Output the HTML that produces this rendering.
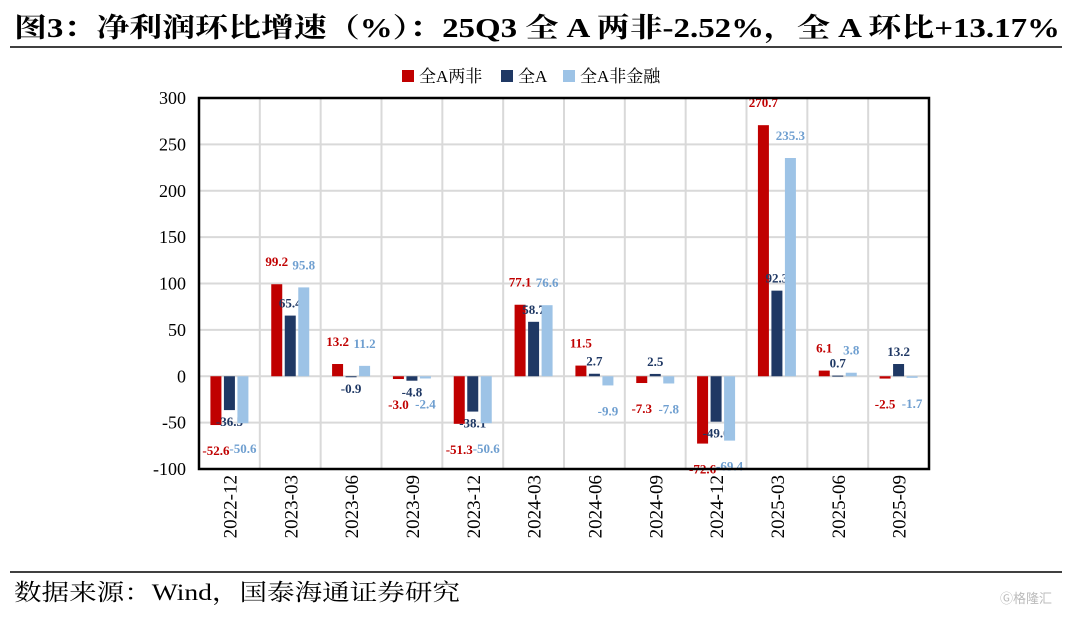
<!DOCTYPE html>
<html><head><meta charset="utf-8"><style>
body{margin:0;width:1077px;height:613px;background:#fff;overflow:hidden;font-family:"Liberation Serif","Noto Serif CJK SC",serif}
</style></head><body>
<svg width="1077" height="613" xmlns="http://www.w3.org/2000/svg">
<text x="14" y="37" font-size="27" font-weight="bold" fill="#000" textLength="1046" lengthAdjust="spacingAndGlyphs">图3：净利润环比增速（%）：25Q3 全 A 两非-2.52%，全 A 环比+13.17%</text>
<line x1="10" y1="47" x2="1062" y2="47" stroke="#000" stroke-width="1.5"/>
<line x1="10" y1="572" x2="1062" y2="572" stroke="#000" stroke-width="1.5"/>
<text x="14" y="600" font-size="23" fill="#000" textLength="446" lengthAdjust="spacingAndGlyphs">数据来源：Wind，国泰海通证券研究</text>
<text x="1000" y="603" font-size="13" fill="#bbb" font-family="Liberation Sans,Noto Sans CJK SC,sans-serif">Ⓖ格隆汇</text>
<g id="legend">
<rect x="402" y="70" width="12" height="12" fill="#c00000"/>
<text x="419" y="82" font-size="17">全A两非</text>
<rect x="501" y="70" width="12" height="12" fill="#1f3864"/>
<text x="518" y="82" font-size="17">全A</text>
<rect x="563" y="70" width="12" height="12" fill="#9dc3e6"/>
<text x="580" y="82" font-size="17">全A非金融</text>
</g>
<g id="plot"></g>
</svg>
<script>
const categories=["2022-12","2023-03","2023-06","2023-09","2023-12","2024-03","2024-06","2024-09","2024-12","2025-03","2025-06","2025-09"];
const seriesA=[-52.6,99.2,13.2,-3.0,-51.3,77.1,11.5,-7.3,-72.6,270.7,6.1,-2.5];
const seriesB=[-36.5,65.4,-0.9,-4.8,-38.1,58.7,2.7,2.5,-49.0,92.3,0.7,13.2];
const seriesC=[-50.6,95.8,11.2,-2.4,-50.6,76.6,-9.9,-7.8,-69.4,235.3,3.8,-1.7];
const yTicks=[300,250,200,150,100,50,0,-50,-100];
const L=199,R=929,T=98,B=469,ymin=-100,ymax=300;
const NS="http://www.w3.org/2000/svg";
const g=document.getElementById('plot');
const y=v=>T+(ymax-v)/(ymax-ymin)*(B-T);
const bw=(R-L)/categories.length;
const xc=i=>L+bw*(i+0.5);
function mk(t,a,p){const e=document.createElementNS(NS,t);for(const k in a)e.setAttribute(k,a[k]);(p||g).appendChild(e);return e;}
yTicks.forEach(v=>{
 const l=mk('line',{x1:L,x2:R,y1:y(v),y2:y(v),stroke:'#d9d9d9','stroke-width':2});
 
 
 const t=mk('text',{x:186,y:y(v)+6,'font-size':18,'text-anchor':'end'});t.textContent=v;
 
 
});
categories.forEach((c,i)=>{
 if(i>0){const l=mk('line',{x1:L+bw*i,x2:L+bw*i,y1:T,y2:B,stroke:'#d9d9d9','stroke-width':2});
 
 }
 const t=mk('text',{x:0,y:0,'font-size':19,'text-anchor':'end',transform:`translate(${xc(i)+7},${B+6}) rotate(-90)`});t.textContent=c;
 
 
});
const series=[[seriesA,'#c00000','#c00000','a'],[seriesB,'#1f3864','#1f3864','b'],[seriesC,'#9dc3e6','#6f9fd0','c']];
series.forEach(([vals,col,tc,n],s)=>{
 vals.forEach((v,i)=>{
  const cx=xc(i)+(s-1)*13.5;
  const y0=y(0),y1=y(v);
  const r=mk('rect',{x:cx-5.5,y:Math.min(y0,y1),width:11,height:Math.max(1,Math.abs(y1-y0)),fill:col});
  
  
  const ty=v>=0?y1-8-(s==1?0:10):y1+16+(s==1?0:14);
  const t=mk('text',{x:cx,y:ty,'font-size':13,'font-weight':'bold','text-anchor':'middle',fill:tc});
  t.textContent=v.toFixed(1);
  
  
 });
});
const f=mk('rect',{x:L,y:T,width:R-L,height:B-T,fill:'none',stroke:'#000','stroke-width':2.5});


</script>
</body></html>
